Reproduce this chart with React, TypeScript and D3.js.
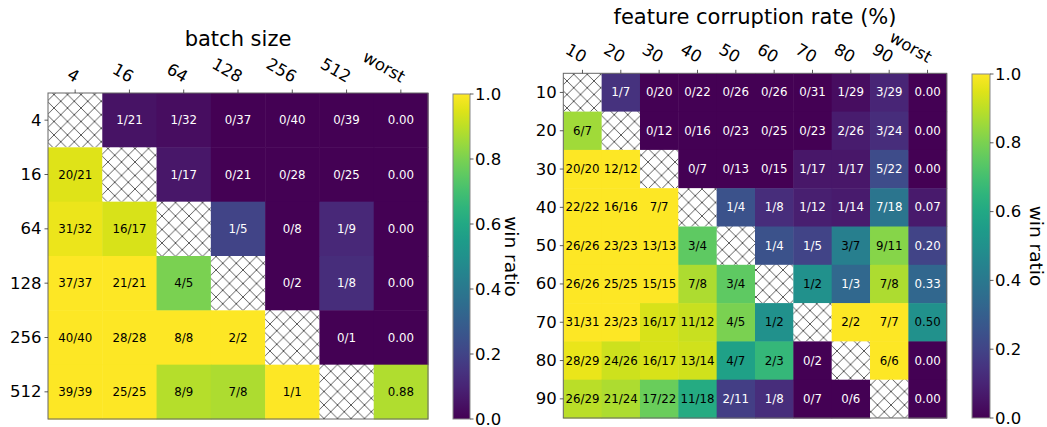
import React from "react";
import * as d3 from "d3";

// ---------- data ----------
const batchRows = ["4", "16", "64", "128", "256", "512"];
const batchCols = ["4", "16", "64", "128", "256", "512", "worst"];
const batchCells = [
  ["x", "1/21", "1/32", "0/37", "0/40", "0/39"],
  ["20/21", "x", "1/17", "0/21", "0/28", "0/25"],
  ["31/32", "16/17", "x", "1/5", "0/8", "1/9"],
  ["37/37", "21/21", "4/5", "x", "0/2", "1/8"],
  ["40/40", "28/28", "8/8", "2/2", "x", "0/1"],
  ["39/39", "25/25", "8/9", "7/8", "1/1", "x"],
];
const batchWorst = [0.0, 0.0, 0.0, 0.0, 0.0, 0.88];

const corrRows = ["10", "20", "30", "40", "50", "60", "70", "80", "90"];
const corrCols = ["10", "20", "30", "40", "50", "60", "70", "80", "90", "worst"];
const corrCells = [
  ["x", "1/7", "0/20", "0/22", "0/26", "0/26", "0/31", "1/29", "3/29"],
  ["6/7", "x", "0/12", "0/16", "0/23", "0/25", "0/23", "2/26", "3/24"],
  ["20/20", "12/12", "x", "0/7", "0/13", "0/15", "1/17", "1/17", "5/22"],
  ["22/22", "16/16", "7/7", "x", "1/4", "1/8", "1/12", "1/14", "7/18"],
  ["26/26", "23/23", "13/13", "3/4", "x", "1/4", "1/5", "3/7", "9/11"],
  ["26/26", "25/25", "15/15", "7/8", "3/4", "x", "1/2", "1/3", "7/8"],
  ["31/31", "23/23", "16/17", "11/12", "4/5", "1/2", "x", "2/2", "7/7"],
  ["28/29", "24/26", "16/17", "13/14", "4/7", "2/3", "0/2", "x", "6/6"],
  ["26/29", "21/24", "17/22", "11/18", "2/11", "1/8", "0/7", "0/6", "x"],
];
const corrWorst = [0.0, 0.0, 0.0, 0.07, 0.2, 0.33, 0.5, 0.0, 0.0];

const colorbarTicks = [0, 0.2, 0.4, 0.6, 0.8, 1.0];

// ---------- helpers ----------
const FONT = "DejaVu Sans, Verdana, sans-serif";
const color = (v: number) => d3.interpolateViridis(v);
const parseFrac = (s: string) => {
  const [a, b] = s.split("/").map(Number);
  return a / b;
};

type HMProps = {
  rows: string[];
  cols: string[];
  cells: string[][];
  worst: number[];
  title: string;
  x0: number;
  x1: number;
  y0: number;
  y1: number;
  titleY: number;
  cb: { x: number; w: number; y0: number; y1: number; labelX: number };
  gid: string;
};

function Heatmap(p: HMProps) {
  const xs = d3.scaleBand<string>().domain(p.cols).range([p.x0, p.x1]);
  const ys = d3.scaleBand<string>().domain(p.rows).range([p.y0, p.y1]);
  const cbScale = d3.scaleLinear().domain([0, 1]).range([p.cb.y1, p.cb.y0]);
  const bw = xs.bandwidth();
  const bh = ys.bandwidth();

  const items: { r: string; c: string; label: string; v: number | null }[] = [];
  p.rows.forEach((r, i) => {
    p.cells[i].forEach((s, j) => {
      items.push({ r, c: p.cols[j], label: s, v: s === "x" ? null : parseFrac(s) });
    });
    items.push({ r, c: "worst", label: p.worst[i].toFixed(2), v: p.worst[i] });
  });

  return (
    <g>
      {items.map((d, k) =>
        d.v === null ? (
          <rect key={k} x={xs(d.c)} y={ys(d.r)} width={bw} height={bh} fill="url(#hatch)" />
        ) : (
          <g key={k}>
            <rect x={xs(d.c)} y={ys(d.r)} width={bw + 0.5} height={bh + 0.5} fill={color(d.v)} />
            <text
              x={(xs(d.c) as number) + bw / 2}
              y={(ys(d.r) as number) + bh / 2}
              textAnchor="middle"
              dominantBaseline="central"
              fontSize={11.8}
              fontFamily={FONT}
              fill={d.v < 0.4 ? "#ffffff" : "#000000"}
            >
              {d.label}
            </text>
          </g>
        )
      )}
      <rect x={p.x0} y={p.y0} width={p.x1 - p.x0} height={p.y1 - p.y0} fill="none" stroke="#666" strokeWidth={1} />
      {/* top ticks */}
      {p.cols.map((c) => {
        const cx = (xs(c) as number) + bw / 2;
        return (
          <g key={c}>
            <line x1={cx} x2={cx} y1={p.y0} y2={p.y0 - 3.5} stroke="#333" strokeWidth={0.8} />
            <text
              transform={`translate(${cx},${p.y0 - 10}) rotate(30)`}
              textAnchor="end"
              fontSize={16.5}
              fontFamily={FONT}
              fill="#000"
            >
              {c}
            </text>
          </g>
        );
      })}
      {/* left ticks */}
      {p.rows.map((r) => {
        const cy = (ys(r) as number) + bh / 2;
        return (
          <g key={r}>
            <line x1={p.x0} x2={p.x0 - 3.5} y1={cy} y2={cy} stroke="#333" strokeWidth={0.8} />
            <text x={p.x0 - 6.5} y={cy} textAnchor="end" dominantBaseline="central" fontSize={16.5} fontFamily={FONT}>
              {r}
            </text>
          </g>
        );
      })}
      <text x={(p.x0 + p.x1) / 2} y={p.titleY} textAnchor="middle" fontSize={21} fontFamily={FONT}>
        {p.title}
      </text>
      {/* colorbar */}
      <rect x={p.cb.x} y={p.cb.y0} width={p.cb.w} height={p.cb.y1 - p.cb.y0} fill={`url(#${p.gid})`} stroke="#888" strokeWidth={1} />
      {colorbarTicks.map((t) => (
        <g key={t}>
          <line x1={p.cb.x + p.cb.w} x2={p.cb.x + p.cb.w + 3.5} y1={cbScale(t)} y2={cbScale(t)} stroke="#333" strokeWidth={0.8} />
          <text x={p.cb.x + p.cb.w + 5} y={cbScale(t)} dominantBaseline="central" fontSize={16.5} fontFamily={FONT}>
            {t.toFixed(1)}
          </text>
        </g>
      ))}
      <text
        transform={`translate(${p.cb.labelX},${(p.cb.y0 + p.cb.y1) / 2}) rotate(90)`}
        textAnchor="middle"
        fontSize={18.5}
        fontFamily={FONT}
      >
        win ratio
      </text>
    </g>
  );
}

export default function App() {
  const stops = d3.range(0, 1.0001, 0.05);
  const grad = (id: string) => (
    <linearGradient id={id} x1="0" y1="1" x2="0" y2="0">
      {stops.map((s) => (
        <stop key={s} offset={s} stopColor={color(s)} />
      ))}
    </linearGradient>
  );
  const hp = 13.5;
  return (
    <svg
      width={1047}
      height={427}
      style={{ position: "absolute", left: 0, top: 0, display: "block", background: "#fff" }}
    >
      <defs>
        <pattern id="hatch" patternUnits="userSpaceOnUse" width={hp} height={hp}>
          <rect width={hp} height={hp} fill="#fff" />
          <path d={`M0,0L${hp},${hp}M${hp},0L0,${hp}`} stroke="#333" strokeWidth={0.8} />
        </pattern>
        {grad("cbL")}
        {grad("cbR")}
      </defs>
      <Heatmap
        rows={batchRows}
        cols={batchCols}
        cells={batchCells}
        worst={batchWorst}
        title="batch size"
        x0={48}
        x1={428}
        y0={93}
        y1={419}
        titleY={46}
        cb={{ x: 453, w: 17, y0: 94, y1: 419, labelX: 505 }}
        gid="cbL"
      />
      <Heatmap
        rows={corrRows}
        cols={corrCols}
        cells={corrCells}
        worst={corrWorst}
        title="feature corruption rate (%)"
        x0={563.3}
        x1={946.7}
        y0={73.3}
        y1={418}
        titleY={24}
        cb={{ x: 972, w: 18, y0: 74, y1: 418, labelX: 1030 }}
        gid="cbR"
      />
    </svg>
  );
}
